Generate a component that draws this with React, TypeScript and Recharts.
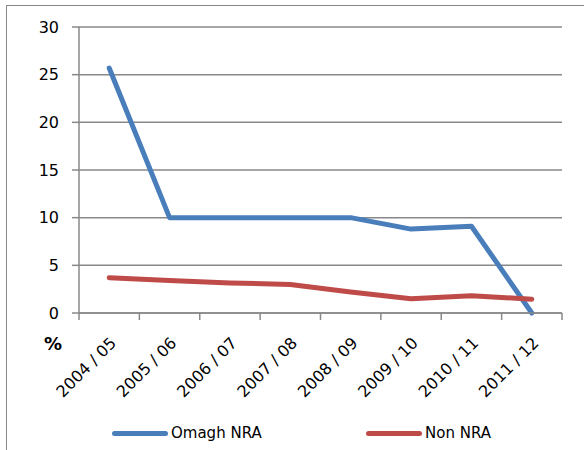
import React from 'react';
import { LineChart, Line, XAxis, YAxis, CartesianGrid, Legend } from 'recharts';

const years = ['2004 / 05', '2005 / 06', '2006 / 07', '2007 / 08', '2008 / 09', '2009 / 10', '2010 / 11', '2011 / 12'];
const omaghNra = [25.7, 10, 10, 10, 10, 8.8, 9.1, 0];
const nonNra = [3.7, 3.4, 3.15, 3.0, 2.2, 1.5, 1.8, 1.45];
const yTicks = [0, 5, 10, 15, 20, 25, 30];
const seriesKeys = ['omagh', 'non'];

const data = years.map((year, i) => ({ year, omagh: omaghNra[i], non: nonNra[i] }));

const W = 584;
const H = 450;
const AXIS_W = 79;
const RIGHT = 22;
const PLOT_W = W - AXIS_W - RIGHT;
const HALF_STEP = PLOT_W / years.length / 2;
const GRAY = '#888888';
const FONT = '"DejaVu Sans", sans-serif';

const YearTick = (props: any) => {
  const { x, y, payload, index } = props;
  const last = index === years.length - 1;
  return (
    <g>
      <line x1={x - HALF_STEP} y1={y} x2={x - HALF_STEP} y2={y + 7} stroke={GRAY} strokeWidth={1.5} />
      {last && <line x1={x + HALF_STEP} y1={y} x2={x + HALF_STEP} y2={y + 7} stroke={GRAY} strokeWidth={1.5} />}
      <text
        x={0}
        y={0}
        transform={`translate(${x + 8},${y + 31}) rotate(-45)`}
        textAnchor="end"
        fill="#000"
        fontSize={16}
        fontFamily={FONT}
      >
        {payload.value}
      </text>
    </g>
  );
};

const legendLeft = [112, 366];

const LegendContent = (props: any) => {
  const items = [...(props.payload || [])].sort(
    (a: any, b: any) => seriesKeys.indexOf(a.dataKey) - seriesKeys.indexOf(b.dataKey)
  );
  return (
    <div style={{ position: 'relative', width: W, height: 40 }}>
      {items.map((entry: any, i: number) => (
        <div
          key={entry.value}
          style={{ position: 'absolute', left: legendLeft[i], top: 13, display: 'flex', alignItems: 'center', height: 20 }}
        >
          <span style={{ display: 'inline-block', width: 56, height: 5, borderRadius: 3, background: entry.color }} />
          <span style={{ marginLeft: 3, fontFamily: FONT, fontSize: 15, color: '#000' }}>{entry.value}</span>
        </div>
      ))}
    </div>
  );
};

const PercentLabel = (props: any) => {
  const { viewBox } = props;
  return (
    <text x={viewBox.x + 44} y={viewBox.y + viewBox.height + 37} fontFamily={FONT} fontWeight="bold" fontSize={18} fill="#000">
      %
    </text>
  );
};

export default function App() {
  return (
    <div style={{ position: 'absolute', left: 0, top: 0, width: W, height: H, background: '#fff' }}>
      <div
        style={{
          position: 'absolute',
          left: 6,
          top: 5,
          right: -4,
          bottom: -4,
          borderLeft: `1.5px solid ${GRAY}`,
          borderTop: `1.5px solid ${GRAY}`,
        }}
      />
      <LineChart width={W} height={H} data={data} margin={{ top: 27, right: RIGHT, left: 0, bottom: 0 }}>
        <CartesianGrid vertical={false} stroke={GRAY} strokeWidth={1.5} />
        <XAxis
          dataKey="year"
          interval={0}
          height={97}
          padding={{ left: HALF_STEP, right: HALF_STEP }}
          tickLine={false}
          tickSize={0}
          tickMargin={0}
          axisLine={{ stroke: GRAY, strokeWidth: 1.5 }}
          tick={<YearTick />}
        />
        <YAxis
          width={AXIS_W}
          domain={[0, 30]}
          ticks={yTicks}
          interval={0}
          tickSize={7}
          tickMargin={13}
          tickLine={{ stroke: GRAY, strokeWidth: 1.5 }}
          axisLine={{ stroke: GRAY, strokeWidth: 1.5 }}
          tick={{ fill: '#000', fontSize: 16, fontFamily: FONT }}
          label={<PercentLabel />}
        />
        <Legend
          verticalAlign="bottom"
          height={40}
          itemSorter={null}
          wrapperStyle={{ left: 0, width: W }}
          content={<LegendContent />}
        />
        <Line
          name="Omagh NRA"
          dataKey="omagh"
          stroke="#4A7EBB"
          strokeWidth={5}
          strokeLinejoin="round"
          strokeLinecap="round"
          dot={false}
          isAnimationActive={false}
        />
        <Line
          name="Non NRA"
          dataKey="non"
          stroke="#BE4B48"
          strokeWidth={5}
          strokeLinejoin="round"
          strokeLinecap="round"
          dot={false}
          isAnimationActive={false}
        />
      </LineChart>
    </div>
  );
}
